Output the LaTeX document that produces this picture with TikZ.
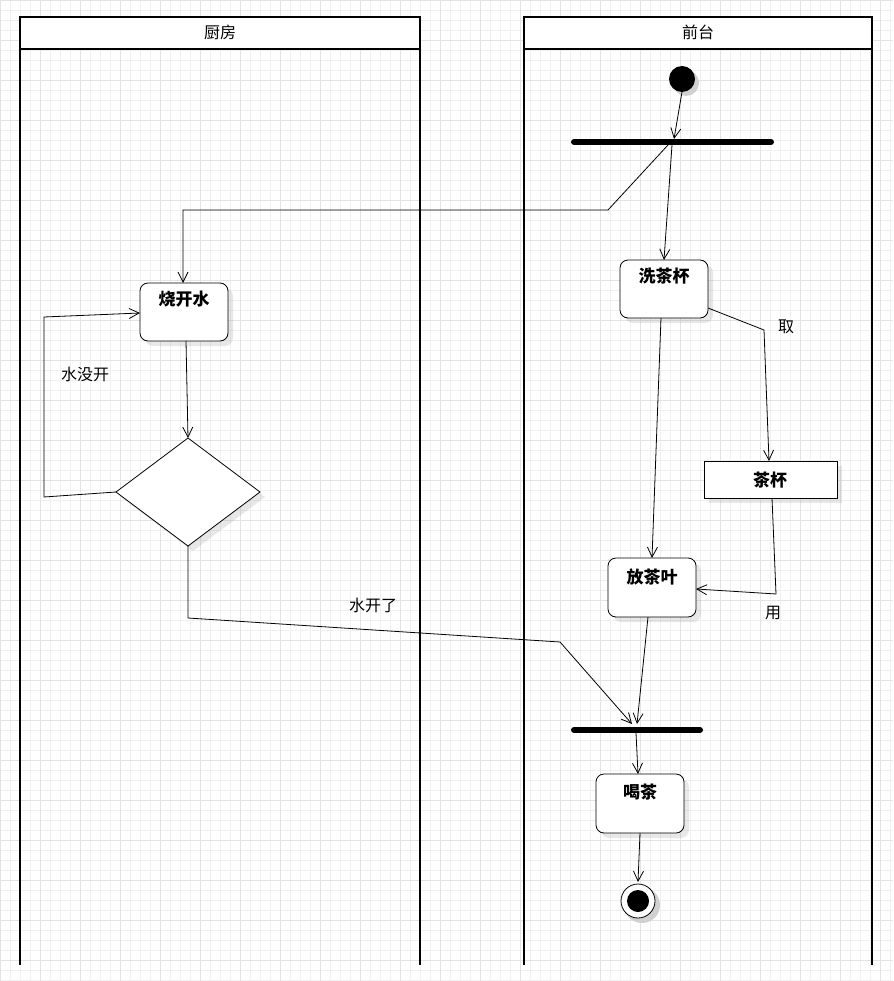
\documentclass[tikz,border=0pt]{standalone}
\usepackage{fontspec}
\setmainfont{Noto Sans CJK SC}
\usetikzlibrary{arrows.meta,shadows,shapes.geometric}
\begin{document}
\begin{tikzpicture}[x=1pt,y=-1pt,
  sh/.style={drop shadow={opacity=.18,shadow xshift=5pt,shadow yshift=-5pt}},
  act/.style={draw,rounded corners=8pt,sh,fill=white,line width=0.8pt},
  lbl/.style={font=\bfseries\fontsize{17}{19}\selectfont},
  txt/.style={font=\fontsize{16}{18}\selectfont},
  ar/.style={-{Straight Barb[length=10pt,width=10pt]},line width=0.8pt},
  bar/.style={line width=6pt,line cap=round}]
\useasboundingbox (0,0) rectangle (893,981);
\fill[white] (0,0) rectangle (893,981);
\foreach \i in {0,10,...,890} \draw[black!6,line width=0.4pt] (\i,0) -- (\i,981);
\foreach \i in {0,10,...,980} \draw[black!6,line width=0.4pt] (0,\i) -- (893,\i);
\foreach \i in {0,40,...,880} \draw[black!11,line width=0.5pt] (\i,0) -- (\i,981);
\foreach \i in {0,40,...,960} \draw[black!11,line width=0.5pt] (0,\i) -- (893,\i);
% lanes
\draw[line width=2.2pt,fill=white] (20,17) rectangle (420,49);
\draw[line width=2.2pt] (20,49) -- (20,965) (420,49) -- (420,965);
\node[txt] (h1) at (220,32) {厨房};
\draw[line width=2.2pt,fill=white] (524,17) rectangle (872,49);
\draw[line width=2.2pt] (524,49) -- (524,965) (872,49) -- (872,965);
\node[txt] (h2) at (698,32) {前台};
% shapes
\fill[black!18] (686,83) circle (13);
\fill (682,79) circle (13); \coordinate (st) at (682,92);
\draw[bar] (574,142) -- (771,142); \coordinate (f1) at (668,145); \coordinate (f2) at (672,145); \coordinate (fin) at (674,139);
\draw[act] (620,260) rectangle (708,318); \node[lbl] (xcb) at (664,276) {洗茶杯};
\draw[act] (140,283) rectangle (228,341); \node[lbl] (skw) at (184,299) {烧开水};
\draw[sh,fill=white,line width=0.8pt] (116,492) -- (188,438) -- (260,492) -- (188,546) -- cycle;
\draw[sh,fill=white,line width=1pt] (704,461) rectangle (837,498); \node[lbl] (cb) at (770,480) {茶杯};
\draw[act] (608,558) rectangle (696,617); \node[lbl] (fcy) at (652,577) {放茶叶};
\draw[bar] (574,730) -- (700,730); \coordinate (jin) at (634,727);
\draw[act] (596,774) rectangle (684,833); \node[lbl] (hc) at (640,792) {喝茶};
\fill[black!18] (642,905) circle (18);
\draw[fill=white,line width=0.8pt] (638,901) circle (17); \fill (638,901) circle (11);
% edges
\draw[ar] (st) -- (fin);
\draw[ar] (f1) -- (608,210) -- (183,210) -- (183,283);
\draw[ar] (f2) -- (664,260);
\draw[ar] (661,318) -- (652,558);
\draw[ar] (708,308) -- (764,330) -- (769,461);
\node[txt] (qu) at (786,327) {取};
\draw[ar] (772,498) -- (776,594) -- (696,589);
\node[txt] (yong) at (773,613) {用};
\draw[ar] (186,341) -- (188,438);
\draw[ar] (116,492) -- (44,497) -- (44,317) -- (140,313);
\node[txt] (smk) at (85,374) {水没开};
\draw[ar] (188,546) -- (188,618) -- (560,642) -- (632,724);
\node[txt] (skl) at (373,605) {水开了};
\draw[ar] (648,617) -- (637,724);
\draw[ar] (636,733) -- (638,774);
\draw[ar] (640,833) -- (638,882);
\end{tikzpicture}
\end{document}
